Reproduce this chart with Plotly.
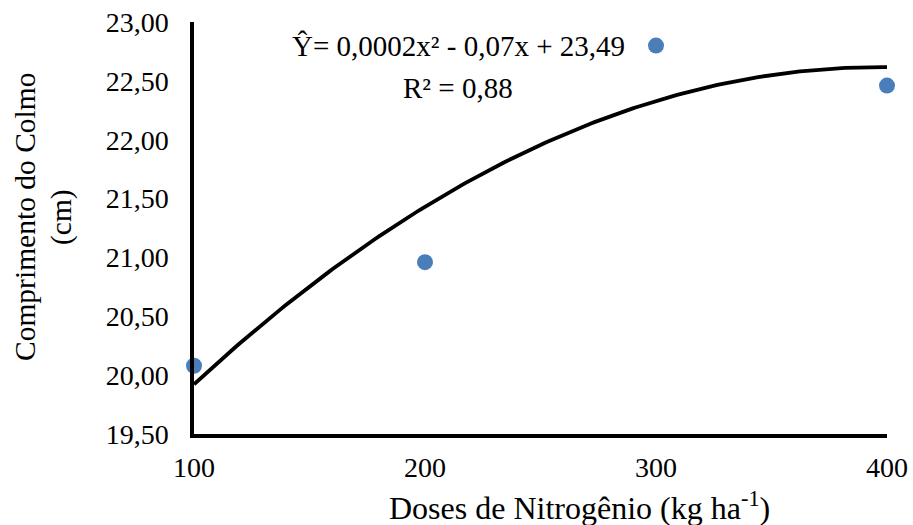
import numpy as np
import plotly.graph_objects as go

doses = [100, 200, 300, 400]
comprimento = [20.08, 20.96, 22.80, 22.46]
y_ticks = [19.5, 20.0, 20.5, 21.0, 21.5, 22.0, 22.5, 23.0]
y_tick_labels = ["19,50", "20,00", "20,50", "21,00", "21,50", "22,00", "22,50", "23,00"]
x_ticks = [100, 200, 300, 400]
equation = "Ŷ= 0,0002x² - 0,07x + 23,49"
r2_text = "R² = 0,88"

coef = np.polyfit(doses, comprimento, 2)
xf = np.linspace(min(doses), max(doses), 200)
yf = np.polyval(coef, xf)

FONT = "Liberation Serif"
L, R, T, B = 194, 26, 22, 91
W, H = 913, 525
pw, ph = W - L - R, H - T - B


def px(x):
    return (x - L) / pw


def py(y):
    return (H - B - y) / ph


fig = go.Figure()
fig.add_trace(go.Scatter(x=xf, y=yf, mode="lines", line=dict(color="black", width=3.8),
                         cliponaxis=False, showlegend=False, hoverinfo="skip"))
fig.add_trace(go.Scatter(x=doses, y=comprimento, mode="markers",
                         marker=dict(color="#4a7ebb", size=16), cliponaxis=False, showlegend=False))

ann = dict(xref="paper", yref="paper", showarrow=False, xanchor="center", yanchor="middle")
fig.update_layout(
    width=W, height=H,
    margin=dict(l=L, r=R, t=T, b=B),
    plot_bgcolor="white", paper_bgcolor="white",
    font=dict(family=FONT, size=28, color="black"),
    xaxis=dict(range=[100, 400], tickvals=x_ticks, showline=True, linecolor="black", linewidth=3.5,
               showgrid=False, zeroline=False, ticks="", tickfont=dict(size=28), ticklabelstandoff=6,
               automargin=False),
    yaxis=dict(range=[19.5, 23.0], tickvals=y_ticks, ticktext=y_tick_labels, showline=True,
               linecolor="black", linewidth=3.5, showgrid=False, zeroline=False, ticks="",
               tickfont=dict(size=28), ticklabelstandoff=16, automargin=False),
    annotations=[
        dict(ann, text=equation, x=px(458), y=py(46), font=dict(size=29)),
        dict(ann, text=r2_text, x=px(458), y=py(88), font=dict(size=29)),
        dict(ann, text="Doses de Nitrogênio (kg ha<sup>-1</sup>)", x=px(579), y=py(506),
             font=dict(size=32)),
        dict(ann, text="Comprimento do Colmo", x=px(25), y=py(217), textangle=-90,
             font=dict(size=29.5)),
        dict(ann, text="(cm)", x=px(61), y=py(217), textangle=-90, font=dict(size=29.5)),
    ],
)
fig.write_html("out.html")
